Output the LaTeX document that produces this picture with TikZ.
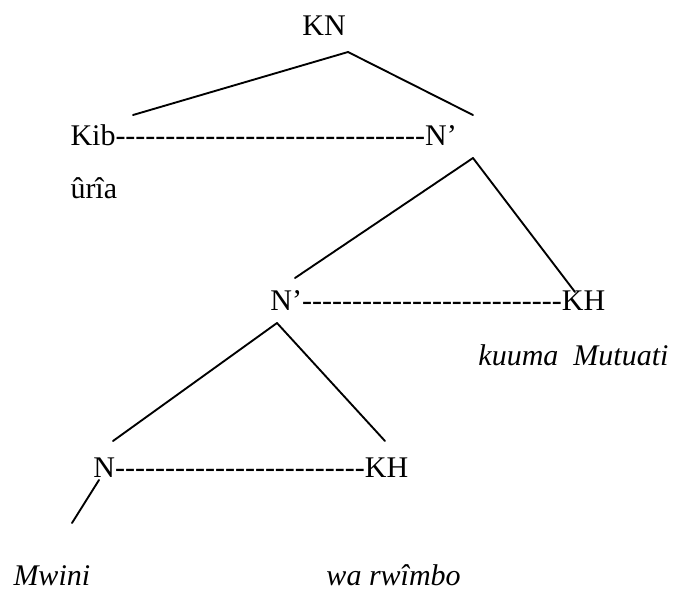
\documentclass[tikz,border=0pt]{standalone}
\usepackage{fontspec}
\setmainfont{Liberation Serif}[Ligatures=TeXOff]
\usepackage{tikz}

\begin{document}
\begin{tikzpicture}[line cap=round,line join=round,x=0.4pt,y=-0.4pt,
  lbl/.style={anchor=base west,inner sep=0pt,font=\fontsize{12}{14}\selectfont},
  branch/.style={line width=0.75pt}]
\useasboundingbox (0,0) rectangle (683,589);
\node[lbl] (kn) at (302,35) {KN};
\node[lbl] (kib) at (70,145) {Kib-------------------------------N’};
\node[lbl] (uria) at (70,198) {ûrîa};
\node[lbl] (nbar) at (270,310) {N’--------------------------KH};
\node[lbl] (kuuma) at (478,365) {\itshape kuuma\ \ Mutuati};
\node[lbl] (n) at (93,477) {N-------------------------KH};
\node[lbl] (mwini) at (13,585) {\itshape Mwini};
\node[lbl] (warwimbo) at (326,585) {\itshape wa rwîmbo};
\coordinate (kn-top) at (348,52);
\coordinate (kn-l) at (133,115);
\coordinate (kn-r) at (473,115);
\coordinate (nb-top) at (473,158);
\coordinate (nb-l) at (295,278);
\coordinate (nb-r) at (575,292);
\coordinate (n-top) at (277,323);
\coordinate (n-l) at (113,441);
\coordinate (n-r) at (385,441);
\coordinate (w-top) at (99,480);
\coordinate (w-end) at (72,523);
\draw[branch] (kn-l)-- (kn-top);
\draw[branch] (kn-top)-- (kn-r);
\draw[branch] (nb-l)-- (nb-top);
\draw[branch] (nb-top)-- (nb-r);
\draw[branch] (n-l)-- (n-top);
\draw[branch] (n-top)-- (n-r);
\draw[branch] (w-top)-- (w-end);
\end{tikzpicture}
\end{document}
